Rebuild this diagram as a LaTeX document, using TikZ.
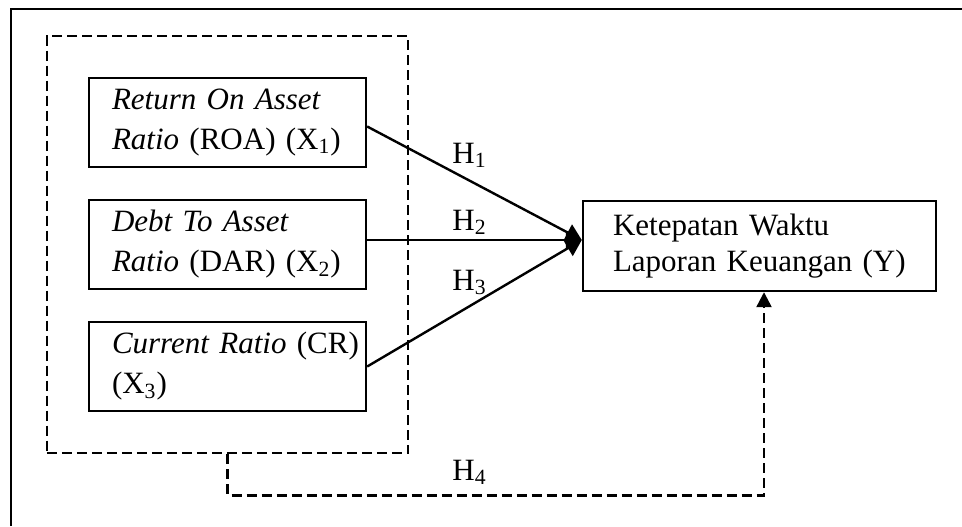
\documentclass[tikz,border=0pt]{standalone}
\usepackage{fontspec}
\setmainfont{Liberation Serif}
\usetikzlibrary{arrows.meta,fit}

\begin{document}
\begin{tikzpicture}[x=0.5pt,y=-0.5pt,
  font=\fontsize{15.5}{20}\selectfont,
  varbox/.style={draw,line width=1.2pt,inner xsep=0pt,text width=138.5pt,
    minimum height=44.5pt,align=left,execute at begin node={\leftskip=11.5pt}},
  depbox/.style={draw,line width=1.2pt,inner xsep=0pt,text width=176.5pt,
    minimum height=45pt,align=left,font=\fontsize{15.5}{18}\selectfont,
    execute at begin node={\leftskip=15pt}},
  dashline/.style={line width=1.2pt,dash pattern=on 5pt off 2.5pt},
  hyp/.style={line width=1.2pt,-{Triangle[length=8pt,width=9pt]}},
  hlabel/.style={anchor=base west,inner sep=0pt}]
  \useasboundingbox (0,0) rectangle (962,526);
  % outer frame (cut off at right and bottom)
  \draw[line width=1.4pt] (11,526) -- (11,9) -- (962,9);
  % independent variables
  \node[varbox] (X1) at (227.5,122.5) {\textit{Return On Asset}\\\textit{Ratio} (ROA) (X\textsubscript{1})};
  \node[varbox] (X2) at (227.5,244.5) {\textit{Debt To Asset}\\\textit{Ratio} (DAR) (X\textsubscript{2})};
  \node[varbox] (X3) at (227.5,366.5) {\textit{Current Ratio} (CR)\\(X\textsubscript{3})};
  \node[draw,dashline,fit=(X1)(X3),inner sep=20.5pt] (grp) {};
  % dependent variable
  \node[depbox] (Y) at (759.5,246) {Ketepatan Waktu\\Laporan Keuangan (Y)};
  \coordinate (hub) at ([yshift=3pt]Y.west);
  % hypotheses
  \draw[hyp] ([yshift=-2pt]X1.east) -- (hub);
  \draw[hyp] (X2.east |- hub) -- (hub);
  \draw[hyp] (X3.east) -- (hub);
  \draw[dashline,-{Triangle[length=7.5pt,width=7.5pt]}] (grp.south) -- ++(0,41) -| ([xshift=2.25pt]Y.south);
  \node[hlabel] (h1) at (452,163) {H\textsubscript{1}};
  \node[hlabel] (h2) at (452,230) {H\textsubscript{2}};
  \node[hlabel] (h3) at (452,290) {H\textsubscript{3}};
  \node[hlabel] (h4) at (452,480) {H\textsubscript{4}};
\end{tikzpicture}
\end{document}
